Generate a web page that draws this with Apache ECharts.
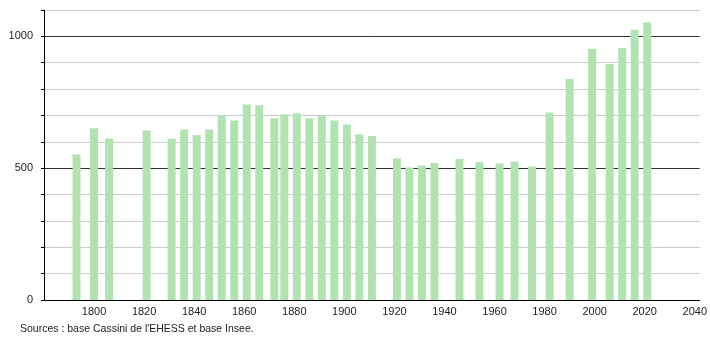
<!DOCTYPE html>
<html>
<head>
<meta charset="utf-8">
<script src="https://cdn.jsdelivr.net/npm/echarts@6/dist/echarts.min.js"></script>
<style>
html,body{margin:0;padding:0;background:#fff;}
#chart{width:710px;height:340px;}
</style>
</head>
<body>
<div id="chart"></div>
<script>
const years = [1793,1800,1806,1821,1831,1836,1841,1846,1851,1856,1861,1866,1872,1876,1881,1886,1891,1896,1901,1906,1911,1921,1926,1931,1936,1946,1954,1962,1968,1975,1982,1990,1999,2006,2011,2016,2021];
const population = [552,651,613,643,612,647,626,647,699,681,742,739,689,704,708,689,698,681,666,628,622,537,503,510,520,535,523,518,525,506,711,838,952,895,956,1025,1053];
const yLabelValues = [0,500,1000];
const sourceText = "Sources : base Cassini de l'EHESS et base Insee.";

const data = years.map((y, i) => [y, population[i]]);
const gridColors = [];
for (let v = 0; v <= 1100; v += 100) gridColors.push(v % 500 === 0 && v > 0 ? '#333333' : '#cccccc');

const chart = echarts.init(document.getElementById('chart'), null, {renderer: 'canvas'});
chart.setOption({
  animation: false,
  backgroundColor: '#ffffff',
  textStyle: {fontFamily: 'Liberation Sans, Arial, sans-serif'},
  grid: {left: 44, right: 10, top: 10, bottom: 40, containLabel: false},
  graphic: [{
    type: 'text', left: 20, top: 324,
    style: {text: sourceText, fontSize: 10.5, fill: '#222', fontFamily: 'Liberation Sans, Arial, sans-serif'}
  }],
  xAxis: {
    type: 'value', min: 1780, max: 2042, interval: 20,
    axisLine: {show: true, lineStyle: {color: '#000', width: 1}},
    axisTick: {show: false},
    splitLine: {show: false},
    axisLabel: {
      color: '#222', fontSize: 11, margin: 6,
      showMinLabel: false, showMaxLabel: false,
      formatter: v => (v % 20 === 0 && v > 1780) ? String(v) : ''
    }
  },
  yAxis: {
    type: 'value', min: 0, max: 1100, interval: 100,
    axisLine: {show: true, lineStyle: {color: '#000', width: 1}},
    axisTick: {show: true, length: 3, lineStyle: {color: '#000'}},
    splitLine: {show: true, lineStyle: {color: gridColors, width: 1}},
    axisLabel: {
      color: '#222', fontSize: 11, margin: 11,
      formatter: v => yLabelValues.includes(v) ? String(v) : ''
    }
  },
  series: [{
    type: 'bar',
    data: data,
    barWidth: 8,
    itemStyle: {color: '#b0e3b0'}
  }]
});
</script>
</body>
</html>
